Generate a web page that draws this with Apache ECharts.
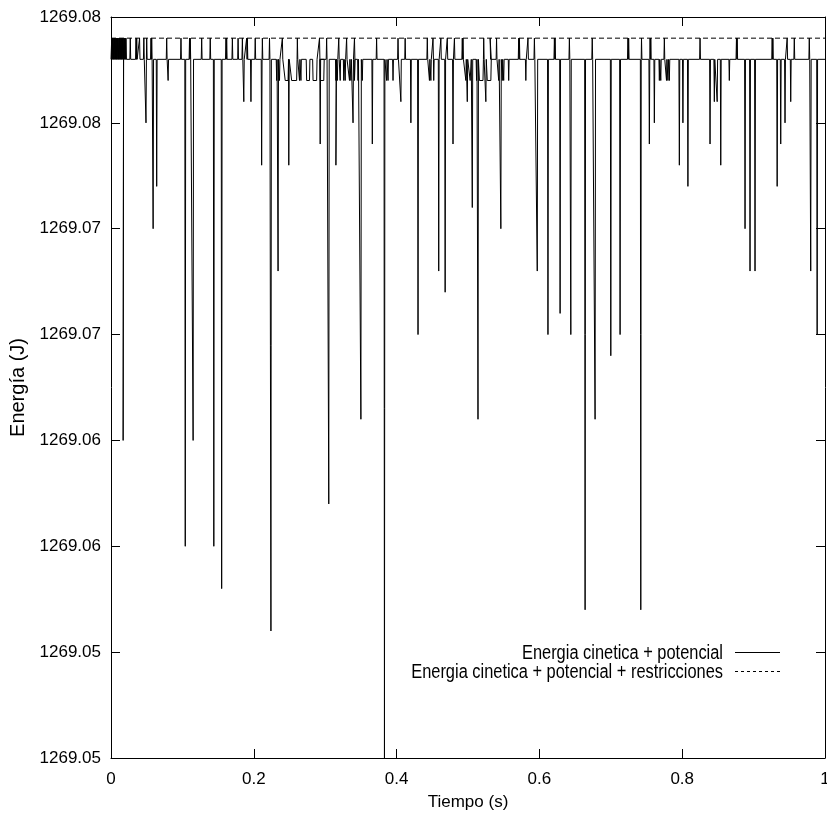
<!DOCTYPE html>
<html>
<head>
<meta charset="utf-8">
<script src="https://cdn.jsdelivr.net/npm/echarts@6/dist/echarts.min.js"></script>
<style>
  html, body { margin: 0; padding: 0; background: #fff; }
  #chart { width: 827px; height: 821px; }
</style>
</head>
<body>
<div id="chart"></div>
<script>
// Energy rest level and the constrained-energy level (J)
const restLevel = 1269.078;
const constrainedLevel = 1269.079;
const riseLevel = 1269.079;
const dipLevel = 1269.077;

// Instants (s) where the kinetic + potential energy ticks up one step
const riseTimes = [0.001, 0.002, 0.003, 0.004, 0.005, 0.006, 0.007, 0.008, 0.009, 0.010, 0.011,
  0.012, 0.013, 0.014, 0.015, 0.016, 0.017, 0.018, 0.019, 0.020, 0.021,
  0.027, 0.035, 0.036, 0.040, 0.046, 0.050, 0.056, 0.057, 0.078, 0.098, 0.110, 0.111, 0.127,
  0.139, 0.161, 0.162, 0.170, 0.178, 0.184, 0.190, 0.191, 0.202, 0.212, 0.222, 0.240, 0.261,
  0.292, 0.302, 0.319, 0.330, 0.341, 0.372, 0.402, 0.412, 0.443, 0.451, 0.462, 0.471, 0.481,
  0.492, 0.493, 0.522, 0.531, 0.540, 0.571, 0.572, 0.584, 0.593, 0.621, 0.622, 0.642, 0.674,
  0.724, 0.725, 0.743, 0.755, 0.756, 0.775, 0.825, 0.876, 0.877, 0.926, 0.927, 0.947, 0.957, 0.978];

// Intervals [start, end] (s) where it sits one step below the rest level
const dipRanges = [[0.080, 0.080], [0.232, 0.232], [0.236, 0.236], [0.244, 0.248],
  [0.253, 0.260], [0.264, 0.264], [0.266, 0.266], [0.274, 0.278], [0.283, 0.288], [0.293, 0.298],
  [0.315, 0.315], [0.317, 0.317], [0.321, 0.321], [0.326, 0.326], [0.328, 0.328], [0.334, 0.334],
  [0.336, 0.336], [0.341, 0.341], [0.346, 0.346], [0.352, 0.352], [0.386, 0.386], [0.388, 0.388],
  [0.395, 0.395], [0.446, 0.446], [0.448, 0.448], [0.452, 0.452], [0.497, 0.497], [0.503, 0.504],
  [0.512, 0.512], [0.516, 0.521], [0.527, 0.532], [0.543, 0.543], [0.548, 0.548], [0.550, 0.550],
  [0.557, 0.557], [0.581, 0.581], [0.768, 0.768], [0.770, 0.770], [0.778, 0.778], [0.780, 0.780],
  [0.782, 0.782], [0.866, 0.866]];

// Single-sample drops (s) and the energy reached (J)
const dropTimes = [0.017, 0.049, 0.059, 0.064, 0.104, 0.115, 0.144, 0.155, 0.186, 0.196, 0.211,
  0.224, 0.234, 0.249, 0.293, 0.305, 0.315, 0.339, 0.350, 0.366, 0.383, 0.406, 0.420, 0.430,
  0.459, 0.468, 0.479, 0.499, 0.506, 0.514, 0.525, 0.546, 0.597, 0.612, 0.629, 0.644, 0.664,
  0.678, 0.700, 0.713, 0.742, 0.754, 0.761, 0.796, 0.801, 0.808, 0.839, 0.845, 0.849, 0.854,
  0.888, 0.895, 0.902, 0.933, 0.938, 0.944, 0.952, 0.980, 0.989];
const dropValues = [1269.060, 1269.075, 1269.070, 1269.072, 1269.055, 1269.060, 1269.055, 1269.053,
  1269.076, 1269.076, 1269.073, 1269.051, 1269.068, 1269.073, 1269.074, 1269.057, 1269.073, 1269.075,
  1269.061, 1269.074, 1269.045, 1269.076, 1269.075, 1269.065, 1269.068, 1269.067, 1269.074, 1269.076,
  1269.071, 1269.061, 1269.076, 1269.070, 1269.068, 1269.065, 1269.066, 1269.065, 1269.052, 1269.061,
  1269.064, 1269.065, 1269.052, 1269.074, 1269.075, 1269.073, 1269.075, 1269.072, 1269.074, 1269.076,
  1269.076, 1269.073, 1269.070, 1269.068, 1269.068, 1269.072, 1269.074, 1269.075, 1269.076, 1269.068,
  1269.065];

// Axis tick labels (printed with 6 significant digits)
const xTickLabels = ['0', '0.2', '0.4', '0.6', '0.8', '1'];
const yTickLabels = ['1269.05', '1269.05', '1269.06', '1269.06', '1269.07', '1269.07', '1269.08', '1269.08'];

const seriesNames = ['Energia cinetica + potencial', 'Energia cinetica + potencial + restricciones'];

// Build the polyline: every event leaves the rest level and comes back to it
const events = [];
riseTimes.forEach(t => events.push([t, t, riseLevel]));
dipRanges.forEach(r => events.push([r[0], r[1], dipLevel]));
dropTimes.forEach((t, i) => events.push([t, t, dropValues[i]]));
events.sort((a, b) => a[0] - b[0]);

const h = 0.0006;
const energyLine = [[0, restLevel]];
events.forEach(([s, e, v]) => {
  energyLine.push([s - h, restLevel], [s, v], [e, v], [e + h, restLevel]);
});
energyLine.push([1, restLevel]);

const sans = '"Liberation Sans", Arial, Helvetica, sans-serif';
const yMin = 1269.045, yMax = 1269.080, yStep = 0.005;

const chart = echarts.init(document.getElementById('chart'), null, { renderer: 'canvas' });

const axisCommon = {
  axisLine: { show: true, onZero: false, lineStyle: { color: '#000', width: 1 } },
  axisTick: { show: true, inside: true, length: 9, lineStyle: { color: '#000', width: 1 } },
  splitLine: { show: false }
};

// Legend rows: condensed text right-aligned before a short sample of the line style
function legendRow(name, y, dash) {
  return [
    {
      type: 'text', x: 723, y: y, scaleX: 0.82, scaleY: 1,
      style: { text: name, fill: '#000', font: '20px ' + sans, textAlign: 'right', textVerticalAlign: 'middle', align: 'right', verticalAlign: 'middle' }
    },
    {
      type: 'line', shape: { x1: 735, y1: y - 0.5, x2: 780, y2: y - 0.5 },
      style: { stroke: '#000', lineWidth: 1, lineDash: dash }
    }
  ];
}

chart.setOption({
  animation: false,
  backgroundColor: '#fff',
  grid: { left: 111, right: 2, top: 17, bottom: 63, containLabel: false, outerBoundsMode: 'none' },
  xAxis: [
    Object.assign({
      type: 'value', min: 0, max: 1, interval: 0.2, position: 'bottom',
      axisLabel: {
        color: '#000', fontFamily: sans, fontSize: 17, margin: 13,
        formatter: v => xTickLabels[Math.round(v / 0.2)]
      },
      name: 'Tiempo (s)', nameLocation: 'middle', nameGap: 36,
      nameTextStyle: { color: '#000', fontFamily: sans, fontSize: 17 }
    }, axisCommon),
    Object.assign({
      type: 'value', min: 0, max: 1, interval: 0.2, position: 'top',
      axisLabel: { show: false }
    }, axisCommon)
  ],
  yAxis: [
    Object.assign({
      type: 'value', min: yMin, max: yMax, interval: yStep, position: 'left',
      axisLabel: {
        color: '#000', fontFamily: sans, fontSize: 17, margin: 10,
        formatter: v => yTickLabels[Math.round((v - yMin) / yStep)]
      },
      name: 'Energía (J)', nameLocation: 'middle', nameGap: 62, nameRotate: 90,
      nameTextStyle: { color: '#000', fontFamily: sans, fontSize: 20 }
    }, axisCommon),
    Object.assign({
      type: 'value', min: yMin, max: yMax, interval: yStep, position: 'right',
      axisLabel: { show: false }
    }, axisCommon)
  ],
  series: [
    {
      name: seriesNames[0], type: 'line', data: energyLine, showSymbol: false, symbol: 'none',
      clip: true, lineStyle: { color: '#000', width: 1 }, z: 3
    },
    {
      name: seriesNames[1], type: 'line', data: [[0, constrainedLevel], [1, constrainedLevel]],
      showSymbol: false, symbol: 'none', clip: true,
      lineStyle: { color: '#000', width: 1, type: [5, 3] }, z: 2
    }
  ],
  graphic: [].concat(legendRow(seriesNames[0], 653, null), legendRow(seriesNames[1], 672, [3, 3]))
});
</script>
</body>
</html>
